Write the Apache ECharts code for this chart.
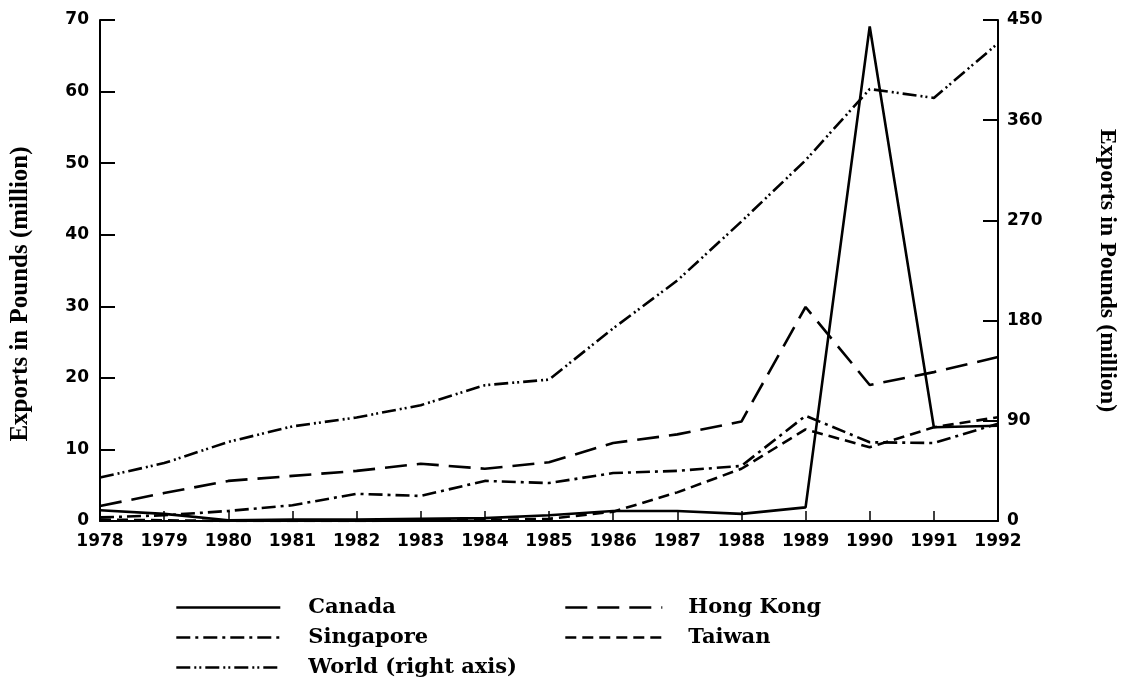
<!DOCTYPE html>
<html>
<head>
<meta charset="utf-8">
<script src="https://cdn.jsdelivr.net/npm/echarts@6/dist/echarts.min.js"></script>
<style>html,body{margin:0;padding:0;background:#fff;}#c{width:1127px;height:686px;}</style>
</head>
<body>
<div id="c"></div>
<script>
var years = ['1978','1979','1980','1981','1982','1983','1984','1985','1986','1987','1988','1989','1990','1991','1992'];
var canada    = [1.5, 1.0, 0.1, 0.2, 0.2, 0.3, 0.4, 0.8, 1.4, 1.4, 1.0, 1.9, 69.1, 13.1, 13.3];
var hongKong  = [2.1, 3.9, 5.6, 6.3, 7.0, 8.0, 7.3, 8.2, 10.9, 12.1, 13.9, 29.9, 19.0, 20.8, 22.9];
var singapore = [0.5, 0.8, 1.4, 2.2, 3.8, 3.5, 5.6, 5.3, 6.7, 7.0, 7.7, 14.7, 11.0, 10.9, 13.6];
var taiwan    = [0.2, 0.1, 0.0, 0.0, 0.0, 0.1, 0.1, 0.3, 1.3, 4.0, 7.3, 12.8, 10.3, 13.1, 14.5];
var world     = [39, 52, 71, 85, 93, 104, 122, 127, 173, 216, 269, 324, 388, 380, 429];
var leftTicks = {min: 0, max: 70, interval: 10};
var rightTicks = {min: 0, max: 450, interval: 90};
var yTitle = 'Exports in Pounds (million)';

var tickFont = {fontFamily: 'DejaVu Sans', fontWeight: 'bold', fontSize: 17, color: '#000'};
var titleFont = {fontFamily: 'Liberation Serif', fontWeight: 'bold', fontSize: 24, color: '#000'};
var legFont = {fontFamily: 'DejaVu Serif', fontWeight: 'bold', fontSize: 21, color: '#000'};
var lw = 2.6;
function mk(name, data, type, yIdx) {
  return {name: name, type: 'line', data: data, yAxisIndex: yIdx || 0, symbol: 'none',
    lineStyle: {color: '#000', width: lw, type: type}, itemStyle: {color: '#000'}, animation: false};
}
function leg(name, left, top, w, pad) {
  return {data: [name], left: left, top: top, itemWidth: w, itemHeight: 14, padding: 0,
    itemStyle: {opacity: 0, borderWidth: 0},
    lineStyle: {width: lw},
    textStyle: Object.assign({padding: [0, 0, 0, pad]}, legFont)};
}
var chart = echarts.init(document.getElementById('c'), null, {renderer: 'canvas'});
chart.setOption({
  backgroundColor: '#fff',
  animation: false,
  grid: {left: 100, right: 126, top: 20, bottom: 165},
  xAxis: {type: 'category', data: years, boundaryGap: false,
    axisLine: {lineStyle: {color: '#000', width: 2}},
    axisTick: {inside: true, length: 10, lineStyle: {color: '#000', width: 1.5}},
    axisLabel: Object.assign({margin: 12, interval: 0}, tickFont),
    splitLine: {show: false}},
  yAxis: [
    {type: 'value', min: leftTicks.min, max: leftTicks.max, interval: leftTicks.interval, position: 'left',
     axisLine: {show: true, lineStyle: {color: '#000', width: 2}},
     axisTick: {show: true, inside: true, length: 15, lineStyle: {color: '#000', width: 2}},
     axisLabel: Object.assign({margin: 11}, tickFont), splitLine: {show: false}},
    {type: 'value', min: rightTicks.min, max: rightTicks.max, interval: rightTicks.interval, position: 'right',
     name: yTitle, nameLocation: 'middle', nameGap: 97, nameRotate: -90,
     nameTextStyle: titleFont,
     axisLine: {show: true, lineStyle: {color: '#000', width: 2}},
     axisTick: {show: true, inside: true, length: 15, lineStyle: {color: '#000', width: 2}},
     axisLabel: Object.assign({margin: 9}, tickFont), splitLine: {show: false}}
  ],
  graphic: [{type: 'text', x: 21, y: 294, rotation: Math.PI / 2,
    style: {text: yTitle, textAlign: 'center', textVerticalAlign: 'middle',
      font: 'bold 25px "Liberation Serif"', fill: '#000'}}],
  legend: [
    leg('Canada', 175, 597, 104, 23),
    leg('Singapore', 175, 627, 104, 23),
    leg('World (right axis)', 175, 657, 104, 23),
    leg('Hong Kong', 564, 597, 97, 21),
    leg('Taiwan', 564, 627, 97, 21)
  ],
  series: [
    mk('Canada', canada, 'solid'),
    mk('Hong Kong', hongKong, [22, 10]),
    mk('Singapore', singapore, [14, 5, 3, 5]),
    mk('Taiwan', taiwan, [11, 6]),
    mk('World (right axis)', world, [14, 4, 2, 3, 2, 4], 1)
  ]
});
</script>
</body>
</html>
